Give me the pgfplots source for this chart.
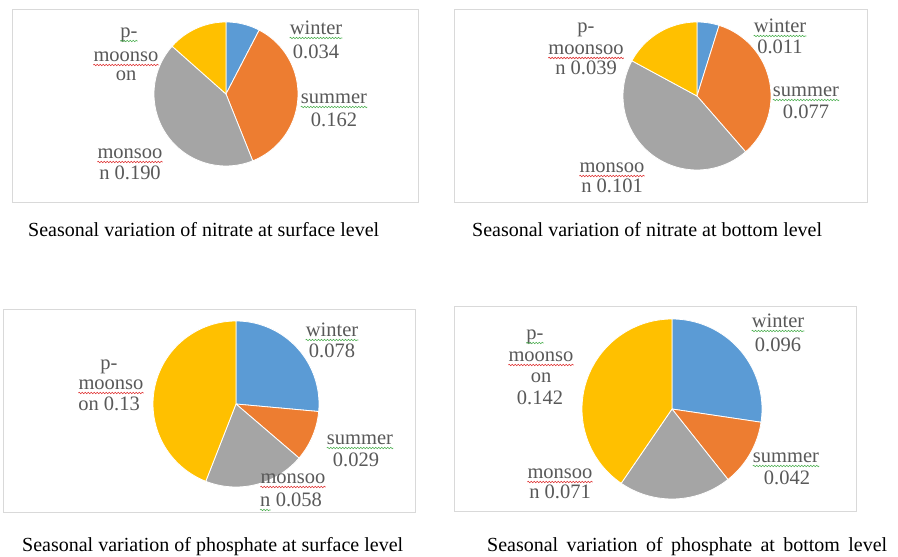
\documentclass[border=0pt]{standalone}
\usepackage{fontspec}
\setmainfont{Liberation Serif}
\usepackage{pgfplots}
\pgfplotsset{compat=1.18}
\usepackage{pgfplotstable}
\usetikzlibrary{calc,decorations.pathmorphing}

\definecolor{cwin}{HTML}{5B9BD5}
\definecolor{csum}{HTML}{ED7D31}
\definecolor{cmon}{HTML}{A5A5A5}
\definecolor{cpm}{HTML}{FFC000}
\definecolor{labgray}{HTML}{595959}
\definecolor{boxgray}{HTML}{D9D9D9}
\definecolor{wred}{HTML}{E03030}
\definecolor{wgreen}{HTML}{4CB050}

% Seasonal values (order: winter, summer, monsoon, p-monsoon)
\pgfplotstableread{
season value
winter 0.034
summer 0.162
monsoon 0.190
pmonsoon 0.060
}\nitsurf
\pgfplotstableread{
season value
winter 0.011
summer 0.077
monsoon 0.101
pmonsoon 0.039
}\nitbot
\pgfplotstableread{
season value
winter 0.078
summer 0.029
monsoon 0.058
pmonsoon 0.13
}\phossurf
\pgfplotstableread{
season value
winter 0.096
summer 0.042
monsoon 0.071
pmonsoon 0.142
}\phosbot

\newcommand{\piechart}[4]{%
 \pgfplotstablegetelem{0}{value}\of#1\edef\pieVa{\pgfplotsretval}%
 \pgfplotstablegetelem{1}{value}\of#1\edef\pieVb{\pgfplotsretval}%
 \pgfplotstablegetelem{2}{value}\of#1\edef\pieVc{\pgfplotsretval}%
 \pgfplotstablegetelem{3}{value}\of#1\edef\pieVd{\pgfplotsretval}%
 \pgfmathsetmacro\pieTot{\pieVa+\pieVb+\pieVc+\pieVd}%
 \pgfmathsetmacro\pieAB{90-360*\pieVa/\pieTot}%
 \pgfmathsetmacro\pieAC{\pieAB-360*\pieVb/\pieTot}%
 \pgfmathsetmacro\pieAD{\pieAC-360*\pieVc/\pieTot}%
 \pgfmathsetmacro\pieWid{2*#4}%
 \pgfmathsetmacro\pieY{557-#3}%
 \begin{axis}[at={(#2pt,\pieY pt)}, anchor=center, hide axis, scale only axis,
   width=\pieWid pt, height=\pieWid pt, xmin=-1, xmax=1, ymin=-1, ymax=1, clip=false]
  \addplot[fill=cwin, draw=white, line width=0.8pt, domain=\pieAB:90, samples=60] ({cos(x)},{sin(x)}) -- (0,0) -- cycle;
  \addplot[fill=csum, draw=white, line width=0.8pt, domain=\pieAC:\pieAB, samples=60] ({cos(x)},{sin(x)}) -- (0,0) -- cycle;
  \addplot[fill=cmon, draw=white, line width=0.8pt, domain=\pieAD:\pieAC, samples=60] ({cos(x)},{sin(x)}) -- (0,0) -- cycle;
  \addplot[fill=cpm, draw=white, line width=0.8pt, domain=-270:\pieAD, samples=60] ({cos(x)},{sin(x)}) -- (0,0) -- cycle;
 \end{axis}}

\newcommand{\wave}[2]{\draw[#1, line width=0.6pt, decorate,
  decoration={snake, amplitude=0.7pt, segment length=3pt}]
  ($(#2.base west)+(0,-3)$) -- ($(#2.base east)+(0,-3)$);}

\begin{document}
\begin{tikzpicture}[x=1pt, y=1pt,
  lab/.style={font=\fontsize{20.5}{24}\selectfont, text=labgray, inner sep=0pt, anchor=base},
  captxt/.style={font=\fontsize{20}{24}\selectfont, text=black, inner sep=0pt, anchor=base west}]
\fill[white] (0,0) rectangle (898,557);

% frames
\draw[boxgray, line width=0.8pt] (12,557-9) rectangle (418,557-202);
\draw[boxgray, line width=0.8pt] (454,557-9) rectangle (867,557-202);
\draw[boxgray, line width=0.8pt] (3,557-309) rectangle (415,557-512);
\draw[boxgray, line width=0.8pt] (454,557-306) rectangle (856,557-511);

% pies
\piechart{\nitsurf}{226}{94}{72}
\piechart{\nitbot}{697}{96}{74}
\piechart{\phossurf}{236}{404}{83}
\piechart{\phosbot}{672}{409}{90}

% ---- top-left labels
\node[lab] (a1) at (316,557-35) {winter};
\node[lab] at (316,557-59) {0.034};
\node[lab] (a2) at (334,557-104) {summer};
\node[lab] at (334,557-127) {0.162};
\node[lab] (a3) at (129,557-38) {p-};
\node[lab] (a4) at (126,557-62) {moonso};
\node[lab] at (126,557-81) {on};
\node[lab] (a5) at (130,557-159) {monsoo};
\node[lab] at (130,557-180) {n 0.190};
\wave{wgreen}{a1}\wave{wgreen}{a2}\wave{wgreen}{a3}\wave{wred}{a4}\wave{wred}{a5}

% ---- top-right labels
\node[lab] (b1) at (780,557-33) {winter};
\node[lab] at (780,557-54) {0.011};
\node[lab] (b2) at (806,557-97) {summer};
\node[lab] at (806,557-119) {0.077};
\node[lab] at (586,557-33) {p-};
\node[lab] (b4) at (586,557-55) {moonsoo};
\node[lab] at (586,557-75) {n 0.039};
\node[lab] (b5) at (612,557-173) {monsoo};
\node[lab] at (612,557-193) {n 0.101};
\wave{wgreen}{b1}\wave{wgreen}{b2}\wave{wred}{b4}\wave{wred}{b5}

% ---- bottom-left labels
\node[lab] (c1) at (332,557-337) {winter};
\node[lab] at (332,557-358) {0.078};
\node[lab] (c2) at (360,557-445) {summer};
\node[lab] at (356,557-467) {0.029};
\node[lab] at (109,557-370) {p-};
\node[lab] (c4) at (111,557-390) {moonso};
\node[lab] at (109,557-411) {on 0.13};
\node[lab] (c5) at (293,557-484) {monsoo};
\node[lab, anchor=base west] (c6) at (260,557-507) {n};
\node[lab, anchor=base west] at ($(c6.base east)+(5,0)$) {0.058};
\wave{wgreen}{c1}\wave{wgreen}{c2}\wave{wred}{c4}\wave{wred}{c5}\wave{wgreen}{c6}

% ---- bottom-right labels
\node[lab] (d1) at (778,557-328) {winter};
\node[lab] at (778,557-352) {0.096};
\node[lab] (d2) at (786,557-463) {summer};
\node[lab] at (787,557-485) {0.042};
\node[lab] (d3) at (535,557-340) {p-};
\node[lab] (d4) at (541,557-362) {moonso};
\node[lab] at (541,557-383) {on};
\node[lab] at (540,557-405) {0.142};
\node[lab] (d5) at (560,557-479) {monsoo};
\node[lab] at (560,557-499) {n 0.071};
\wave{wgreen}{d1}\wave{wgreen}{d2}\wave{wgreen}{d3}\wave{wred}{d4}\wave{wred}{d5}

% ---- captions
\node[captxt] at (28,557-237) {Seasonal variation of nitrate at surface level};
\node[captxt] at (472,557-237) {Seasonal variation of nitrate at bottom level};
\node[captxt] at (22,557-552) {Seasonal variation of phosphate at surface level};
\node[captxt] at (487,557-552) {\makebox[400pt][s]{Seasonal variation of phosphate at bottom level}};
\end{tikzpicture}
\end{document}
